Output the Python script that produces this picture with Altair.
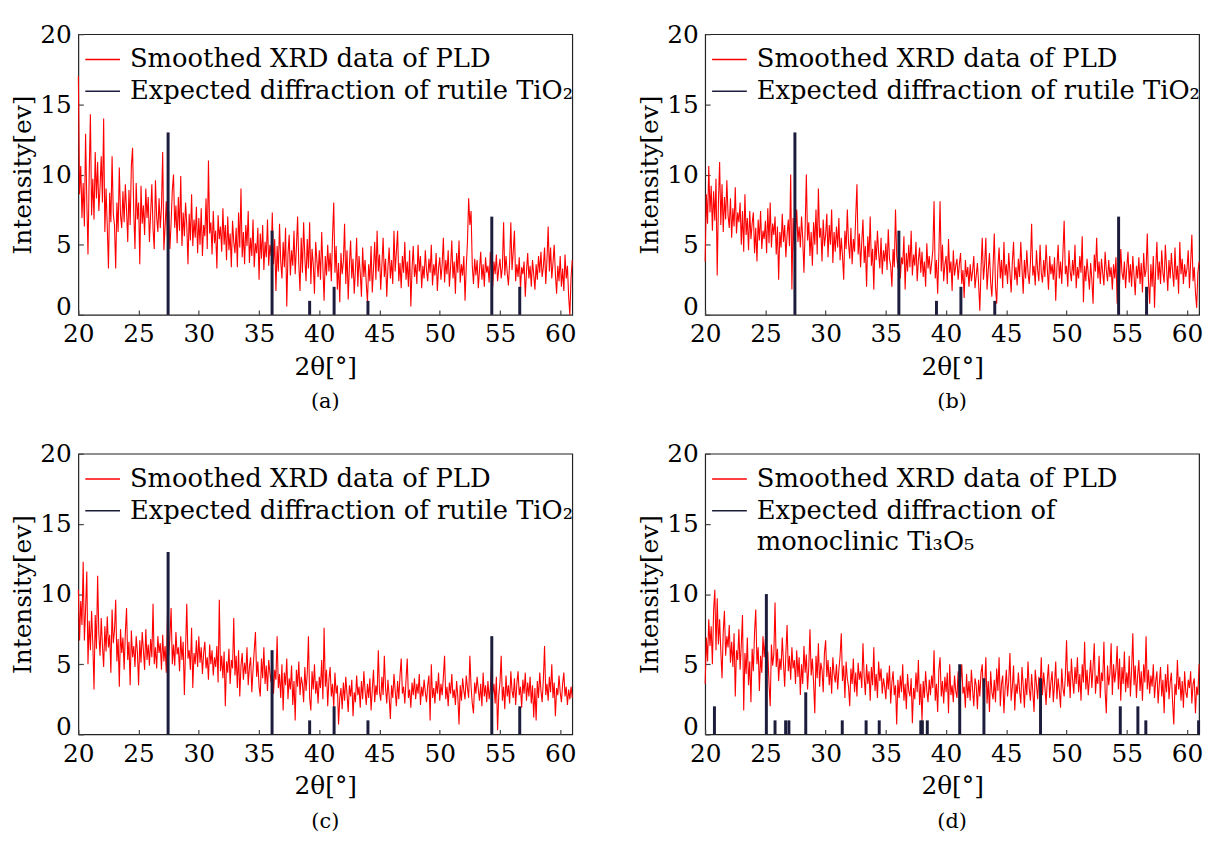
import altair as alt
import numpy as np
import pandas as pd

# 2-theta sampling of the measured scans (degrees)
ANGLE_START = 20.0
ANGLE_STEP = 0.1

# Smoothed XRD intensity, panel (a): one row per degree, 20.0 ... 61.0
intensity_a = [
    17.0, 8.6, 10.6, 6.9, 9.4, 6.3, 12.9, 8.2, 4.3, 10.0,
    14.3, 7.1, 9.7, 6.8, 11.6, 8.3, 10.9, 7.4, 9.1, 11.3,
    8.0, 14.0, 5.9, 9.0, 6.3, 3.3, 8.7, 6.6, 11.3, 7.2,
    6.4, 3.3, 8.0, 5.9, 10.5, 7.1, 6.2, 8.8, 6.6, 9.3,
    7.5, 5.2, 8.9, 6.4, 10.6, 11.9, 7.3, 4.7, 9.4, 6.8,
    8.0, 3.6, 9.2, 6.5, 7.8, 5.7, 9.0, 6.9, 8.4, 5.2,
    7.2, 9.3, 6.1, 4.7, 9.6, 7.0, 5.9, 8.3, 6.2, 7.7,
    11.6, 4.6, 6.3, 8.1, 5.4, 7.4, 4.7, 6.6, 8.9, 10.0,
    6.2, 7.8, 5.1, 8.4, 6.0, 9.9, 4.9, 7.3, 5.6, 8.0,
    6.4, 3.6, 7.2, 5.3, 8.6, 4.9, 6.8, 5.5, 7.7, 4.4,
    6.9, 5.0, 7.6, 4.2, 6.4, 5.6, 8.3, 4.7, 11.0, 5.8,
    6.6, 4.3, 7.4, 5.1, 6.0, 3.3, 7.1, 5.4, 6.3, 4.5,
    7.6, 5.0, 6.4, 3.9, 7.0, 4.6, 5.8, 3.4, 6.7, 5.2,
    4.4, 6.2, 3.4, 7.3, 4.8, 9.0, 4.1, 5.9, 3.6, 6.4,
    4.9, 7.4, 3.7, 5.5, 4.2, 6.8, 3.4, 5.1, 4.4, 6.2,
    2.5, 5.8, 4.0, 6.4, 3.2, 5.2, 4.1, 6.8, 3.5, 5.0,
    4.2, 7.3, 3.6, 5.4, 1.7, 4.9, 3.1, 6.5, 3.8, 2.6,
    5.2, 3.4, 6.2, 0.6, 4.3, 5.7, 2.8, 4.6, 3.5, 6.0,
    2.9, 4.8, 7.0, 3.6, 1.7, 5.5, 3.0, 6.6, 4.1, 2.4,
    5.4, 3.3, 6.6, 2.2, 4.7, 3.6, 1.5, 5.2, 3.9, 2.7,
    4.6, 2.5, 5.9, 3.4, 1.0, 4.2, 2.8, 5.0, 3.1, 4.4,
    2.4, 5.6, 8.0, 3.0, 4.9, 1.8, 3.7, 0.9, 4.4, 2.9,
    3.8, 6.5, 2.2, 4.6, 1.1, 3.5, 5.3, 2.6, 4.0, 1.5,
    3.2, 5.5, 2.0, 4.2, 3.0, 1.3, 4.8, 2.7, 3.9, 2.2,
    0.9, 3.6, 2.4, 4.9, 1.6, 3.3, 5.2, 2.5, 6.0, 3.1,
    4.3, 1.8, 3.6, 5.5, 2.7, 4.0, 1.3, 3.4, 4.8, 2.6,
    3.9, 2.2, 6.0, 3.1, 4.5, 6.0, 2.4, 3.7, 1.9, 4.2,
    3.0, 5.2, 2.5, 3.8, 2.0, 4.6, 0.6, 3.3, 4.9, 2.7,
    3.6, 2.2, 5.0, 3.1, 4.2, 1.9, 3.5, 2.6, 4.6, 3.2,
    2.4, 4.0, 3.0, 5.0, 2.1, 3.6, 2.8, 4.4, 1.7, 3.3,
    4.1, 2.5, 3.6, 5.5, 2.3, 3.9, 2.9, 4.6, 2.0, 3.4,
    5.3, 2.6, 3.8, 1.5, 4.4, 3.0, 5.3, 2.3, 3.6, 2.8,
    4.2, 1.0, 3.4, 5.2, 8.3, 6.4, 7.4, 3.5, 2.2, 4.0,
    2.8, 3.9, 1.9, 3.2, 4.5, 2.5, 3.6, 2.0, 4.1, 3.0,
    3.5, 2.3, 4.5, 3.1, 2.0, 3.8, 2.9, 4.3, 2.4, 3.3,
    4.0, 2.6, 3.4, 6.6, 2.8, 4.2, 3.0, 2.1, 3.7, 6.6,
    3.2, 4.5, 6.0, 2.4, 3.6, 2.7, 4.1, 1.8, 3.4, 2.9,
    3.8, 1.3, 3.1, 4.4, 2.6, 3.5, 2.0, 3.9, 2.9, 1.8,
    3.6, 2.5, 4.2, 3.0, 4.5, 2.7, 3.4, 4.8, 2.2, 3.9,
    6.3, 3.1, 4.8, 2.6, 3.7, 5.0, 2.9, 1.5, 3.5, 2.4,
    4.2, 2.0, 3.3, 1.7, 4.3, 2.6, 3.5, 1.3, 0.0, 2.7,
    3.9,
]

intensity_b = [
    3.8, 8.6, 6.5, 10.6, 7.3, 9.2, 6.0, 8.8, 6.7, 9.7,
    2.8, 8.0, 10.9, 6.4, 9.3, 5.9, 8.4, 6.8, 9.6, 7.1,
    6.2, 8.3, 5.5, 7.6, 6.3, 9.1, 5.8, 7.3, 6.6, 8.0,
    5.0, 7.4, 4.5, 8.6, 5.7, 6.9, 4.6, 7.4, 5.4, 6.5,
    7.3, 4.4, 6.2, 3.8, 6.8, 5.3, 7.4, 4.7, 6.0, 5.4,
    6.7, 4.4, 7.6, 5.1, 8.0, 4.8, 6.5, 5.7, 7.0, 4.3,
    6.3, 2.5, 5.9, 4.8, 7.2, 5.2, 6.4, 4.1, 5.7, 6.8,
    4.9, 10.0, 1.8, 6.9, 4.6, 5.8, 7.5, 5.2, 6.3, 4.8,
    7.0, 5.4, 3.0, 6.1, 10.0, 5.3, 6.6, 4.2, 5.9, 3.5,
    6.6, 5.0, 7.5, 4.3, 9.0, 5.5, 6.2, 3.8, 6.8, 4.9,
    5.7, 7.2, 4.1, 6.4, 5.0, 7.5, 3.7, 5.9, 4.5, 6.3,
    4.8, 6.9, 3.9, 5.5, 4.2, 2.5, 6.0, 4.7, 7.5, 5.1,
    4.0, 6.2, 3.6, 5.4, 4.5, 7.1, 9.3, 4.3, 5.8, 3.4,
    5.2, 6.8, 3.7, 4.9, 2.0, 5.6, 4.1, 7.0, 3.5, 4.7,
    1.8, 5.3, 3.9, 6.0, 4.4, 3.3, 5.5, 2.9, 4.6, 3.8,
    5.1, 3.2, 6.1, 4.0, 3.5, 2.0, 4.7, 3.4, 7.5, 4.2,
    3.3, 5.2, 2.6, 4.1, 3.6, 5.6, 1.8, 4.4, 3.1, 5.0,
    3.4, 6.0, 2.8, 4.3, 3.5, 5.2, 2.4, 3.9, 4.8, 3.0,
    4.5, 2.7, 3.8, 2.0, 5.1, 3.3, 4.2, 2.9, 3.7, 4.6,
    8.1, 2.6, 3.9, 1.5, 4.4, 8.1, 3.1, 5.0, 2.4, 3.6,
    4.2, 2.2, 5.4, 3.0, 3.8, 1.7, 4.6, 2.8, 3.5, 4.0,
    2.5, 3.6, 4.4, 2.2, 3.2, 1.2, 3.9, 2.7, 3.4, 2.0,
    3.6, 2.4, 3.1, 4.2, 1.9, 2.8, 3.7, 2.2, 0.3, 3.3,
    5.5, 2.5, 3.6, 5.5, 1.8, 3.2, 4.4, 2.3, 1.3, 3.5,
    5.8, 2.0, 0.8, 3.4, 4.8, 2.6, 3.9, 1.9, 5.2, 2.8,
    3.6, 2.2, 4.4, 3.0, 1.6, 3.8, 5.2, 2.5, 3.4, 2.1,
    4.0, 2.7, 5.2, 3.3, 1.5, 3.9, 2.6, 4.6, 3.0, 2.2,
    3.7, 6.5, 2.8, 3.5, 2.1, 4.6, 3.2, 2.4, 5.0, 3.0,
    2.3, 3.9, 2.7, 5.0, 3.3, 1.8, 4.2, 2.9, 3.6, 2.5,
    4.1, 1.0, 3.4, 5.0, 2.6, 3.8, 2.2, 4.4, 6.7, 2.9,
    3.5, 2.0, 4.6, 3.1, 2.4, 3.9, 2.8, 5.0, 1.9, 3.4,
    2.6, 4.2, 3.0, 5.6, 0.9, 3.5, 2.4, 4.0, 2.9, 1.8,
    3.7, 2.5, 0.8, 4.3, 3.1, 5.5, 2.6, 3.8, 2.2, 4.0,
    3.0, 2.1, 4.5, 3.2, 2.4, 3.9, 2.7, 3.4, 1.8, 3.6,
    2.6, 4.1, 0.8, 3.3, 2.2, 4.7, 3.0, 2.5, 3.8, 1.9,
    3.4, 4.5, 2.3, 3.6, 2.0, 4.2, 2.8, 1.4, 3.5, 2.6,
    4.1, 2.2, 3.7, 1.6, 4.4, 2.7, 3.2, 5.8, 2.4, 0.8,
    3.6, 2.0, 4.2, 0.5, 3.3, 5.2, 2.5, 3.8, 2.2, 4.6,
    3.0, 2.3, 5.0, 3.4, 1.7, 3.9, 2.6, 4.4, 3.1, 2.0,
    4.8, 2.5, 3.5, 1.5, 5.2, 2.9, 4.0, 2.2, 3.6, 2.7,
    3.3, 4.6, 1.9, 3.7, 5.7, 2.4, 3.4, 1.6, 0.5, 3.0,
    3.8,
]

intensity_c = [
    10.3, 6.7, 9.5, 7.8, 12.3, 6.7, 8.9, 11.6, 5.0, 8.1,
    6.0, 8.8, 6.5, 3.2, 8.5, 6.1, 11.3, 7.2, 5.6, 8.3,
    6.3, 4.8, 7.7, 5.9, 8.4, 6.2, 7.1, 4.4, 8.9, 6.5,
    7.4, 9.6, 5.2, 6.8, 3.4, 7.5, 5.8, 6.9, 4.6, 7.2,
    9.0, 5.3, 6.6, 3.5, 7.4, 5.5, 6.3, 4.8, 7.0, 5.9,
    3.5, 6.7, 5.1, 7.3, 6.0, 4.6, 7.5, 5.3, 6.4, 4.9,
    6.8, 5.5, 9.3, 5.0, 6.2, 4.7, 7.0, 5.8, 6.5, 4.6,
    7.1, 5.2, 6.3, 4.4, 8.6, 5.6, 6.9, 9.0, 5.0, 6.4,
    4.9, 7.3, 5.7, 6.2, 4.5, 7.0, 5.3, 6.6, 2.8, 6.1,
    9.3, 5.4, 6.0, 4.6, 7.6, 3.3, 5.8, 5.0, 6.7, 4.8,
    7.0, 5.1, 6.2, 4.3, 5.8, 6.6, 4.7, 5.5, 3.9, 6.4,
    5.0, 6.0, 4.2, 5.5, 4.8, 6.3, 3.7, 9.6, 4.5, 5.6,
    4.0, 5.9, 2.0, 5.2, 4.4, 6.1, 3.6, 5.3, 4.7, 8.3,
    4.2, 5.6, 3.3, 6.0, 2.7, 4.9, 5.8, 3.9, 5.1, 4.3,
    6.2, 3.5, 4.8, 5.5, 3.0, 4.6, 6.0, 7.3, 4.1, 5.2,
    3.4, 2.7, 5.4, 4.0, 6.2, 3.6, 4.9, 3.1, 5.3, 4.4,
    3.7, 5.5, 2.9, 4.6, 3.9, 7.0, 3.3, 4.3, 2.6, 5.0,
    1.7, 4.4, 3.5, 5.4, 2.5, 4.0, 3.2, 4.9, 2.1, 3.8,
    1.0, 4.6, 3.4, 5.2, 2.8, 4.1, 3.6, 2.3, 4.8, 3.1,
    4.3, 7.0, 2.6, 1.7, 4.5, 3.2, 5.0, 2.9, 3.8, 2.2,
    4.1, 3.3, 5.3, 2.5, 7.6, 3.4, 4.6, 2.0, 3.9, 4.8,
    2.7, 3.6, 1.9, 4.4, 2.9, 3.5, 0.7, 2.6, 3.3, 1.8,
    3.7, 2.4, 4.1, 2.9, 1.6, 3.5, 2.7, 3.9, 1.3, 3.0,
    2.3, 4.2, 2.8, 3.4, 1.9, 3.8, 2.5, 4.5, 3.1, 2.1,
    3.6, 2.6, 4.0, 1.7, 3.2, 4.6, 2.3, 3.5, 2.8, 6.0,
    3.0, 2.4, 4.1, 2.8, 5.6, 3.3, 2.2, 3.9, 2.7, 1.1,
    3.5, 2.6, 4.3, 3.1, 2.0, 3.8, 2.5, 4.2, 5.4, 2.9,
    3.4, 2.2, 3.9, 5.4, 2.6, 3.2, 1.9, 3.7, 2.8, 4.0,
    2.5, 3.6, 2.9, 4.3, 2.1, 3.4, 2.7, 3.9, 3.0, 2.3,
    3.5, 4.2, 1.0, 5.0, 2.6, 3.3, 2.2, 3.8, 2.9, 4.4,
    2.4, 3.6, 2.8, 4.1, 5.6, 2.5, 3.4, 2.0, 3.7, 2.9,
    4.3, 2.6, 3.2, 2.1, 3.8, 2.7, 0.7, 3.5, 2.4, 4.0,
    3.1, 2.5, 4.2, 3.3, 2.6, 5.6, 3.4, 2.2, 1.5, 3.7,
    2.9, 4.1, 3.2, 2.4, 3.6, 2.0, 4.4, 2.7, 3.5, 2.3,
    3.8, 2.5, 3.3, 5.0, 2.9, 3.6, 2.2, 4.1, 0.3, 2.8,
    3.7, 5.6, 2.4, 3.4, 1.8, 4.2, 2.7, 3.5, 2.2, 4.5,
    3.1, 2.6, 4.0, 2.1, 3.6, 4.5, 2.8, 3.4, 1.9, 3.9,
    2.9, 4.4, 2.4, 3.7, 2.7, 4.1, 2.2, 3.5, 1.2, 3.3,
    1.0, 3.8, 2.6, 4.4, 3.1, 2.3, 3.9, 6.3, 2.8, 3.6,
    2.4, 4.1, 3.0, 5.0, 2.6, 3.7, 1.3, 3.3, 2.8, 4.2,
    3.0, 2.3, 3.6, 4.4, 2.7, 3.4, 2.1, 3.2, 2.5, 3.4,
    2.6,
]

intensity_d = [
    3.6, 6.9, 5.2, 8.2, 6.3, 7.7, 5.0, 8.8, 10.3, 6.0,
    9.7, 6.4, 8.2, 5.9, 4.0, 7.3, 8.8, 5.6, 7.0, 6.2,
    7.8, 5.1, 6.6, 4.8, 7.2, 2.7, 6.0, 5.3, 7.5, 4.6,
    6.4, 8.5, 1.7, 5.8, 4.3, 6.9, 3.5, 5.2, 2.3, 6.1,
    4.5, 7.3, 8.9, 5.0, 6.2, 3.1, 5.6, 4.4, 7.0, 5.5,
    6.8, 4.2, 5.9, 3.6, 2.0, 6.4, 4.9, 5.7, 9.4, 4.8,
    6.1, 3.8, 5.4, 4.6, 6.9, 5.1, 3.4, 5.8, 7.8, 4.5,
    5.6, 3.9, 6.2, 4.7, 5.3, 3.6, 6.0, 4.1, 5.5, 2.8,
    5.0, 3.6, 6.3, 4.4, 5.7, 3.2, 4.8, 7.5, 4.2, 5.4,
    3.7, 1.5, 5.6, 4.0, 6.5, 3.4, 5.1, 4.6, 3.0, 5.8,
    6.7, 4.1, 5.3, 3.5, 4.8, 2.9, 5.5, 4.3, 3.7, 5.0,
    3.2, 4.6, 5.6, 7.2, 3.8, 4.9, 2.6, 5.2, 4.0, 3.4,
    2.0, 4.7, 3.6, 5.4, 3.0, 4.4, 2.7, 5.1, 3.9, 4.5,
    3.3, 6.5, 4.1, 2.8, 5.0, 3.6, 4.5, 2.4, 4.8, 3.5,
    6.2, 3.1, 4.3, 2.6, 5.2, 3.8, 4.7, 2.9, 4.0, 3.4,
    2.5, 4.4, 3.2, 4.9, 2.2, 3.7, 4.5, 2.8, 3.5, 0.7,
    3.9, 2.6, 4.2, 3.0, 5.0, 2.4, 3.6, 1.8, 4.3, 3.1,
    2.7, 4.0, 0.8, 3.3, 2.5, 4.4, 3.0, 5.3, 2.1, 3.6,
    1.0, 3.8, 2.6, 4.5, 3.1, 2.3, 3.9, 2.8, 4.2, 3.3,
    6.0, 2.4, 3.6, 1.6, 4.6, 5.5, 2.7, 3.8, 2.2, 4.1,
    3.0, 4.4, 1.5, 5.0, 2.8, 3.5, 2.3, 4.2, 3.1, 2.6,
    4.5, 2.1, 3.7, 5.0, 2.9, 3.4, 1.9, 4.3, 2.6, 3.8,
    2.4, 4.6, 3.2, 2.0, 4.0, 3.5, 1.8, 3.9, 2.7, 4.4,
    5.0, 2.6, 3.4, 5.5, 2.2, 3.8, 1.6, 4.5, 3.0, 2.5,
    3.9, 2.3, 4.7, 3.1, 5.5, 2.0, 3.6, 4.2, 1.5, 3.3,
    4.6, 2.7, 3.8, 5.8, 2.4, 3.4, 4.9, 1.7, 3.6, 2.9,
    4.4, 3.1, 2.2, 4.8, 3.5, 1.9, 4.0, 2.8, 5.2, 3.3,
    2.4, 4.3, 3.0, 1.6, 4.6, 3.6, 2.5, 4.1, 3.2, 5.5,
    2.8, 4.4, 3.4, 2.1, 3.9, 5.0, 2.6, 3.7, 4.5, 2.3,
    3.6, 5.2, 2.5, 4.0, 3.1, 1.9, 4.7, 3.3, 2.7, 4.2,
    6.7, 3.4, 4.5, 2.6, 5.4, 3.9, 2.9, 4.8, 3.6, 5.5,
    3.0, 4.3, 2.4, 5.0, 3.7, 6.6, 3.2, 4.6, 2.8, 4.0,
    5.3, 3.3, 4.8, 6.5, 2.9, 4.2, 3.6, 5.6, 2.6, 4.4,
    3.8, 6.6, 3.1, 1.5, 4.9, 3.5, 4.3, 6.5, 2.8, 5.0,
    3.7, 4.6, 6.3, 3.2, 5.4, 2.4, 4.8, 3.6, 5.9, 3.0,
    4.4, 3.3, 5.6, 2.7, 4.6, 7.2, 3.5, 4.9, 2.6, 4.2,
    5.3, 3.1, 4.5, 2.4, 5.0, 3.7, 7.0, 3.2, 4.6, 2.9,
    4.2, 3.4, 5.0, 2.6, 3.8, 4.5, 2.2, 3.6, 4.8, 2.7,
    3.9, 1.5, 4.3, 3.0, 5.0, 2.5, 3.7, 4.4, 2.3, 0.7,
    3.6, 2.8, 5.3, 3.2, 4.1, 2.4, 3.8, 1.9, 4.5, 3.0,
    2.6, 3.9, 3.3, 4.5, 2.2, 3.6, 4.0, 1.5, 3.4, 2.8,
    5.0,
]

# Expected reflections (position in degrees, relative intensity)
rutile_pos = [27.45, 36.08, 39.2, 41.23, 44.04, 54.32, 56.64]
rutile_int = [13, 6, 1, 2, 1, 7, 2]
ti3o5_pos = [20.77, 25.08, 25.8, 26.68, 26.95, 28.35, 31.38, 33.36, 34.45,
             37.9, 38.03, 38.44, 41.13, 43.14, 47.84, 54.46, 55.92, 56.58, 60.96]
ti3o5_int = [2, 10, 1, 1, 1, 3, 1, 1, 1, 1, 1, 1, 5, 4, 4, 2, 2, 1, 1]

LABEL_DATA = "Smoothed XRD data of PLD"
LABEL_RUTILE = "Expected diffraction of rutile TiO₂"
LABELS_TI3O5 = ["Expected diffraction of", "monoclinic Ti₃O₅"]

x_ticks = [20, 25, 30, 35, 40, 45, 50, 55, 60]
y_ticks = [0, 5, 10, 15, 20]

RED = "#ff0000"
NAVY = "#1c1c3c"
FONT = "DejaVu Serif"


def panel(values, pos, ints, stick_labels, caption):
    angles = np.round(ANGLE_START + ANGLE_STEP * np.arange(len(values)), 2)
    line_df = pd.DataFrame({"angle": angles, "intensity": values, "series": LABEL_DATA})
    stick_df = pd.DataFrame({"angle": pos, "intensity": ints, "series": stick_labels[0]})
    domain = [LABEL_DATA] + stick_labels
    rng = [RED, NAVY] + ["rgba(0,0,0,0)"] * (len(stick_labels) - 1)
    color = alt.Color(
        "series:N",
        scale=alt.Scale(domain=domain, range=rng),
        legend=alt.Legend(
            title=None, orient="none", legendX=6, legendY=7,
            symbolType="stroke", symbolSize=1225, symbolStrokeWidth=1.6,
            labelFont=FONT, labelFontSize=26, labelColor="#000",
            labelOffset=9, rowPadding=-3, padding=0, labelLimit=600,
        ),
    )
    xs = alt.Scale(domain=[20, 61], nice=False, zero=False)
    ys = alt.Scale(domain=[0, 20], nice=False, zero=False)

    base_line = alt.Chart(line_df).mark_line(strokeWidth=1.1, color=RED).encode(
        x=alt.X("angle:Q", scale=xs,
                axis=alt.Axis(orient="bottom", values=x_ticks, title="2θ[°]", ticks=False,
                              domain=False, grid=False, labelPadding=7, titlePadding=8,
                              labelFlush=False)),
        y=alt.Y("intensity:Q", scale=ys,
                axis=alt.Axis(orient="left", values=y_ticks, title="Intensity[ev]", ticks=False,
                              domain=False, grid=False, labelPadding=7, titlePadding=4,
                              labelFlush=False,
                              labelOffset={"condition": {"test": "datum.value === 0", "value": -8},
                                           "value": 0})),
        color=color,
    )
    sticks = alt.Chart(stick_df).mark_rule(strokeWidth=3).encode(
        x=alt.X("angle:Q", scale=xs,
                axis=alt.Axis(orient="bottom", values=x_ticks, labels=False, title=None,
                              domain=False, grid=False, ticks=True, tickSize=5, offset=-5,
                              tickColor="#444", tickWidth=1.2)),
        y=alt.Y("intensity:Q", scale=ys,
                axis=alt.Axis(orient="left", values=y_ticks, labels=False, title=None,
                              domain=False, grid=False, ticks=True, tickSize=5, offset=-5,
                              tickColor="#444", tickWidth=1.2)),
        y2=alt.datum(0),
        color=color,
    )
    return alt.layer(base_line, sticks).resolve_axis(x="independent", y="independent").properties(
        width=498, height=283,
        title=alt.TitleParams(caption, orient="bottom", offset=12, fontSize=21,
                              font=FONT, fontWeight="normal", color="#000"),
    )


pa = panel(intensity_a, rutile_pos, rutile_int, [LABEL_RUTILE], "(a)")
pb = panel(intensity_b, rutile_pos, rutile_int, [LABEL_RUTILE], "(b)")
pc = panel(intensity_c, rutile_pos, rutile_int, [LABEL_RUTILE], "(c)")
pd_ = panel(intensity_d, ti3o5_pos, ti3o5_int, LABELS_TI3O5, "(d)")

row1 = alt.hconcat(pa, pb, spacing=60).resolve_scale(color="independent").resolve_legend(color="independent")
row2 = alt.hconcat(pc, pd_, spacing=60).resolve_scale(color="independent").resolve_legend(color="independent")

chart = alt.vconcat(row1, row2, spacing=28).resolve_scale(
    color="independent", x="independent", y="independent"
).resolve_legend(color="independent").properties(
    padding={"left": 10, "top": 18, "right": 4, "bottom": 4}
).configure_view(
    stroke="#222", strokeWidth=1.2
).configure_axis(
    labelFont=FONT, titleFont=FONT, labelFontSize=25, titleFontSize=25,
    labelColor="#000", titleColor="#000", titleFontWeight="normal",
)

chart.save("out.html", embed_options={"renderer": "svg", "actions": False})
